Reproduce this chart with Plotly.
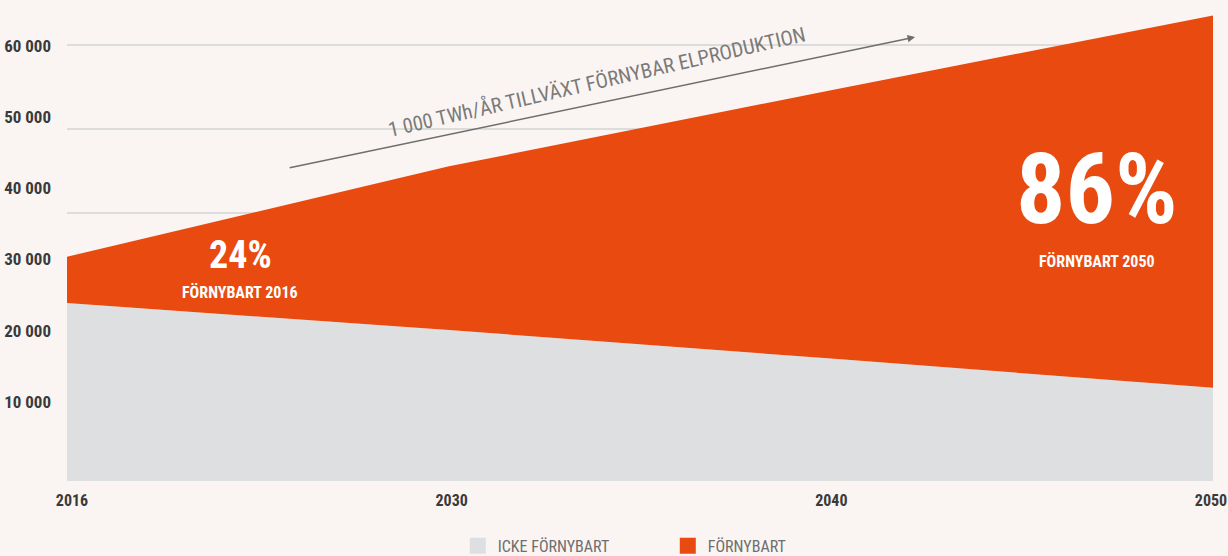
import plotly.graph_objects as go

years = ["2016", "2030", "2040", "2050"]
icke_fornybart = [25000, 21200, 17200, 13100]
fornybart = [6500, 23000, 37700, 52300]
y_tickvals = [10000, 20000, 30000, 40000, 50000, 60000]
y_ticktext = ["10 000", "20 000", "30 000", "40 000", "50 000", "60 000"]

BG = "#faf5f2"
GRAY = "#dedfe0"
ORANGE = "#e84a10"
FONT = "Roboto Condensed, Liberation Sans Narrow, DejaVu Sans Condensed, Roboto, sans-serif"

fig = go.Figure()
fig.add_trace(go.Scatter(x=years, y=icke_fornybart, stackgroup="one", mode="lines",
                         line=dict(width=0, color=GRAY), fillcolor=GRAY,
                         showlegend=False, hoverinfo="skip"))
fig.add_trace(go.Scatter(x=years, y=fornybart, stackgroup="one", mode="lines",
                         line=dict(width=0, color=ORANGE), fillcolor=ORANGE,
                         showlegend=False, hoverinfo="skip"))
# grid helper axis (y2) and tick-label helper axis (x2)
fig.add_trace(go.Scatter(x=years, y=[None] * len(years), yaxis="y2", mode="lines",
                         showlegend=False, hoverinfo="skip"))
fig.add_trace(go.Scatter(x=years, y=[None] * len(years), xaxis="x2", mode="lines",
                         showlegend=False, hoverinfo="skip"))
# legend entries
fig.add_trace(go.Scatter(x=[None], y=[None], mode="markers", name="ICKE FÖRNYBART",
                         marker=dict(symbol="square", size=19, color=GRAY)))
fig.add_trace(go.Scatter(x=[None], y=[None], mode="markers", name="FÖRNYBART",
                         marker=dict(symbol="square", size=19, color=ORANGE)))

white_big = dict(family=FONT, color="white", weight="bold")
fig.add_annotation(x=0.453, y=31700, xref="x", yref="y", text="24%", showarrow=False,
                   font=dict(white_big, size=38))
fig.add_annotation(x=0.453, y=26500, xref="x", yref="y", text="FÖRNYBART 2016", showarrow=False,
                   font=dict(white_big, size=16))
fig.add_annotation(x=2.696, y=40900, xref="x", yref="y", text="86%", showarrow=False,
                   font=dict(white_big, size=98))
fig.add_annotation(x=2.696, y=30900, xref="x", yref="y", text="FÖRNYBART 2050", showarrow=False,
                   font=dict(white_big, size=16))
# growth arrow
fig.add_annotation(x=2.22, y=62360, ax=0.579, ay=43960, xref="x", yref="y", axref="x", ayref="y",
                   text="", showarrow=True, arrowhead=2, arrowsize=1, arrowwidth=1.5,
                   arrowcolor="#6e6e6e")
fig.add_annotation(x=1.387, y=56100, xref="x", yref="y",
                   text="1 000 TWh/ÅR TILLVÄXT FÖRNYBAR ELPRODUKTION", showarrow=False,
                   textangle=-13, font=dict(family=FONT, size=20.5, color="#7a7a7a"))

fig.update_layout(
    width=1228, height=556,
    margin=dict(l=67, r=15, t=4, b=75, autoexpand=False),
    paper_bgcolor=BG, plot_bgcolor="rgba(0,0,0,0)",
    xaxis=dict(type="category", categoryorder="array", categoryarray=years, range=[0, 3],
               showgrid=False, zeroline=False, showline=False, ticks="", automargin=False,
               showticklabels=False),
    xaxis2=dict(type="category", categoryorder="array", categoryarray=years, range=[0, 3],
                domain=[0.00436, 0.99825], anchor="y",
                showgrid=False, zeroline=False, showline=False, ticks="", automargin=False,
                tickfont=dict(family=FONT, size=16, color="#3a3a3a", weight="bold"),
                ticklabelstandoff=8),
    yaxis=dict(range=[0, 67000], tickvals=y_tickvals, ticktext=y_ticktext, automargin=False,
               showgrid=False, zeroline=False, showline=False, ticks="",
               tickfont=dict(family=FONT, size=17, color="#3a3a3a", weight="bold"),
               ticklabelstandoff=15, ticklabelshift=-8),
    yaxis2=dict(overlaying="y", range=[8095, 64881], tick0=0, dtick=10000,
                showgrid=True, gridcolor="#dcdcdc", gridwidth=1.5, automargin=False,
                showticklabels=False, zeroline=False, showline=False, ticks=""),
    legend=dict(orientation="h", x=0.341, xanchor="left", y=-0.136, yanchor="middle",
                traceorder="normal",
                font=dict(family=FONT, size=16, color="#6e6e6e"),
                entrywidth=165, bgcolor="rgba(0,0,0,0)"),
    showlegend=True,
)

fig.write_html("out.html")
